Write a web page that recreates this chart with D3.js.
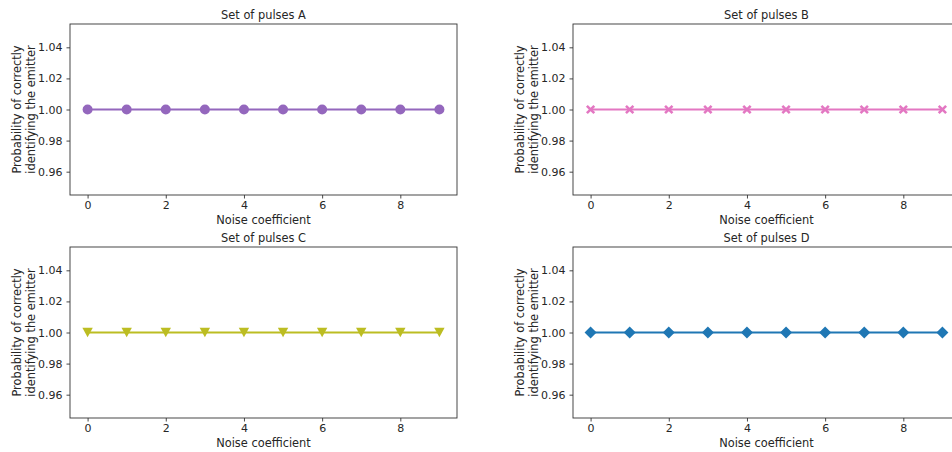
<!DOCTYPE html>
<html>
<head>
<meta charset="utf-8">
<script src="https://cdn.jsdelivr.net/npm/d3@7"></script>
<style>
  html, body { margin: 0; padding: 0; background: #fff; overflow: hidden; }
  svg { display: block; }
  text { font-family: "DejaVu Sans", sans-serif; fill: #262626; }
</style>
</head>
<body>
<svg id="chart" width="952" height="452"></svg>
<script>
// Noise coefficients tested for each set of pulses
const noise = [0, 1, 2, 3, 4, 5, 6, 7, 8, 9];

// Probability of correctly identifying the emitter, per set of pulses
const pulsesA = [1, 1, 1, 1, 1, 1, 1, 1, 1, 1];
const pulsesB = [1, 1, 1, 1, 1, 1, 1, 1, 1, 1];
const pulsesC = [1, 1, 1, 1, 1, 1, 1, 1, 1, 1];
const pulsesD = [1, 1, 1, 1, 1, 1, 1, 1, 1, 1];

const panelTitles = ["Set of pulses A", "Set of pulses B", "Set of pulses C", "Set of pulses D"];
const panelColors = ["#9467bd", "#e377c2", "#bcbd22", "#1f77b4"];
const panelMarkers = ["circle", "x", "triangleDown", "diamond"];

const xTicks = [0, 2, 4, 6, 8];
const yTicks = [0.96, 0.98, 1.00, 1.02, 1.04];
const xDomain = [-0.45, 9.45];
const yDomain = [0.945, 1.055];

const xLabel = "Noise coefficient";
const yLabelLines = ["Probability of correctly", "identifying the emitter"];

const svg = d3.select("#chart");

// Panel frames: left, top, width, height
const panels = [
  { x: 70,  y: 24,  w: 387, h: 171, data: pulsesA },
  { x: 573, y: 24,  w: 387, h: 171, data: pulsesB },
  { x: 70,  y: 247, w: 387, h: 171, data: pulsesC },
  { x: 573, y: 247, w: 387, h: 171, data: pulsesD }
];

function markerPath(kind) {
  if (kind === "circle") {
    const r = 5;
    return `M${-r},0A${r},${r} 0 1,0 ${r},0A${r},${r} 0 1,0 ${-r},0Z`;
  }
  if (kind === "triangleDown") {
    const w = 5.2, h = 4.7;
    return `M${-w},${-h}L${w},${-h}L0,${h}Z`;
  }
  if (kind === "diamond") {
    const s = 6;
    return `M0,${-s}L${s},0L0,${s}L${-s},0Z`;
  }
  // filled X
  const e = 4.6, t = 1.8;
  const pts = [
    [0, -t], [e - t, -e], [e, -e + t], [t, 0], [e, e - t], [e - t, e],
    [0, t], [-e + t, e], [-e, e - t], [-t, 0], [-e, -e + t], [-e + t, -e]
  ];
  return "M" + pts.map(p => p.join(",")).join("L") + "Z";
}

panels.forEach((p, i) => {
  const g = svg.append("g").attr("transform", `translate(${p.x},${p.y})`);
  const x = d3.scaleLinear().domain(xDomain).range([0, p.w]);
  const y = d3.scaleLinear().domain(yDomain).range([p.h, 0]);

  // Axes
  const xAxis = d3.axisBottom(x).tickValues(xTicks).tickFormat(d3.format("d")).tickSizeOuter(0).tickSize(3.5).tickPadding(2.5);
  const yAxis = d3.axisLeft(y).tickValues(yTicks).tickFormat(d3.format(".2f")).tickSizeOuter(0).tickSize(3.5).tickPadding(4);

  const gx = g.append("g").attr("transform", `translate(0,${p.h})`).call(xAxis);
  const gy = g.append("g").call(yAxis);
  [gx, gy].forEach(a => {
    a.select(".domain").remove();
    a.selectAll(".tick line").attr("stroke", "#333").attr("stroke-width", 0.9);
    a.selectAll(".tick text").style("font-family", "DejaVu Sans, sans-serif").style("font-size", "11px").attr("fill", "#262626");
  });

  // Line and markers
  const color = panelColors[i];
  const line = d3.line().x((d, j) => x(noise[j])).y(d => y(d));
  g.append("path")
    .datum(p.data)
    .attr("d", line)
    .attr("fill", "none")
    .attr("stroke", color)
    .attr("stroke-width", 2);

  g.selectAll("path.marker")
    .data(p.data)
    .join("path")
    .attr("class", "marker")
    .attr("transform", (d, j) => `translate(${x(noise[j])},${y(d)})`)
    .attr("d", markerPath(panelMarkers[i]))
    .attr("fill", color);

  // Frame
  g.append("rect")
    .attr("width", p.w).attr("height", p.h)
    .attr("fill", "none").attr("stroke", "#333").attr("stroke-width", 0.9);

  // Title
  g.append("text")
    .attr("x", p.w / 2).attr("y", -5)
    .attr("text-anchor", "middle")
    .style("font-size", "11.4px")
    .text(panelTitles[i]);

  // X label
  g.append("text")
    .attr("x", p.w / 2).attr("y", p.h + 29)
    .attr("text-anchor", "middle")
    .style("font-size", "11.4px")
    .text(xLabel);

  // Y label (two lines)
  const yl = g.append("text")
    .attr("transform", `translate(-49.5,${p.h / 2}) rotate(-90)`)
    .attr("text-anchor", "middle")
    .style("font-size", "11.4px");
  yl.append("tspan").attr("x", 0).attr("dy", 0).text(yLabelLines[0]);
  yl.append("tspan").attr("x", 0).attr("dy", 14).text(yLabelLines[1]);
});
</script>
</body>
</html>
